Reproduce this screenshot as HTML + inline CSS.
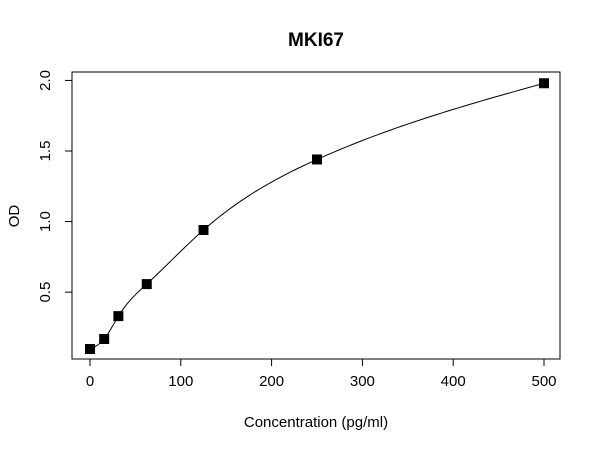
<!DOCTYPE html>
<html><head><meta charset="utf-8"><style>
body{margin:0;background:#fff}
svg{display:block;font-family:"Liberation Sans",Arial,sans-serif}
</style></head><body>
<svg id="chart" width="600" height="450" xmlns="http://www.w3.org/2000/svg">
<text x="316" y="46" text-anchor="middle" font-size="19" font-weight="bold">MKI67</text>
<rect x="72" y="72" width="488" height="287" fill="none" stroke="#000" stroke-width="1"/>
<text x="316" y="427" text-anchor="middle" font-size="15">Concentration (pg/ml)</text>
<text transform="translate(19,216) rotate(-90)" text-anchor="middle" font-size="15">OD</text>
<g id="axes"></g>
<path id="curve" fill="none" stroke="#000" stroke-width="1"/>
<g id="pts"></g>
</svg>
<script>
const concentrations=[0,15.6,31.25,62.5,125,250,500];
const odValues=[0.097,0.168,0.33,0.557,0.94,1.44,1.98];
const xTicks=[0,100,200,300,400,500];
const yTicks=[0.5,1.0,1.5,2.0];
const NS="http://www.w3.org/2000/svg";
const xs=v=>90+v*(544-90)/500;
const ys=v=>362.7-v*(291.7-80)/1.5;
const axes=document.getElementById('axes');
function mk(t,a,p){const e=document.createElementNS(NS,t);for(const k in a)e.setAttribute(k,a[k]);(p||axes).appendChild(e);return e;}
xTicks.forEach(v=>{
 const l=mk('line',{x1:xs(v),x2:xs(v),y1:359,y2:366,stroke:'#000'});
 
 
 const t=mk('text',{x:xs(v),y:386,'text-anchor':'middle','font-size':15});
 
 
 t.textContent=v;
});
yTicks.forEach(v=>{
 const l=mk('line',{x1:65,x2:72,y1:ys(v),y2:ys(v),stroke:'#000'});
 
 
 const t=mk('text',{transform:`translate(50,${ys(v)}) rotate(-90)`,'text-anchor':'middle','font-size':15});
 
 
 t.textContent=v.toFixed(1);
});
// natural cubic spline through data
const n=concentrations.length,X=concentrations,Y=odValues;
const h=[],al=[],l=[1],mu=[0],z=[0],c=new Array(n).fill(0),b=[],d=[];
for(let i=0;i<n-1;i++)h[i]=X[i+1]-X[i];
for(let i=1;i<n-1;i++)al[i]=3/h[i]*(Y[i+1]-Y[i])-3/h[i-1]*(Y[i]-Y[i-1]);
for(let i=1;i<n-1;i++){l[i]=2*(X[i+1]-X[i-1])-h[i-1]*mu[i-1];mu[i]=h[i]/l[i];z[i]=(al[i]-h[i-1]*z[i-1])/l[i];}
for(let j=n-2;j>=0;j--){c[j]=z[j]-mu[j]*c[j+1];b[j]=(Y[j+1]-Y[j])/h[j]-h[j]*(c[j+1]+2*c[j])/3;d[j]=(c[j+1]-c[j])/(3*h[j]);}
let dstr='';
for(let i=0;i<n-1;i++){for(let k=0;k<=40;k++){const x=X[i]+h[i]*k/40,dx=x-X[i];const y=Y[i]+b[i]*dx+c[i]*dx*dx+d[i]*dx*dx*dx;dstr+=(dstr?'L':'M')+xs(x).toFixed(2)+' '+ys(y).toFixed(2);}}
document.getElementById('curve').setAttribute('d',dstr);
const pts=document.getElementById('pts');
concentrations.forEach((v,i)=>{
 const r=mk('rect',{x:xs(v)-5,y:ys(odValues[i])-5,width:10,height:10,fill:'#000'},pts);
 
 
});
</script>
</body></html>
